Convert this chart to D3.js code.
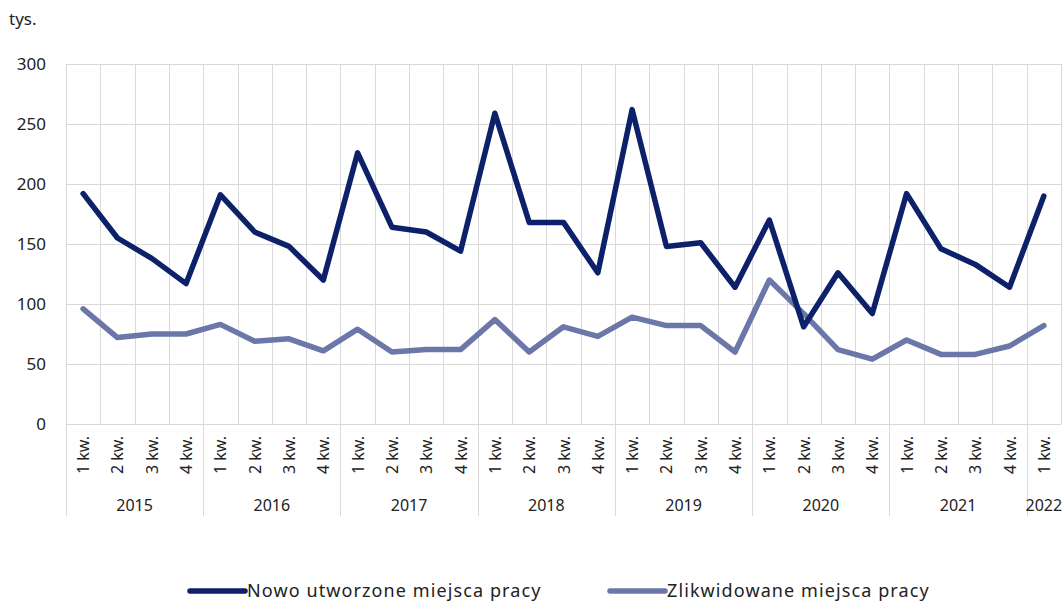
<!DOCTYPE html>
<html>
<head>
<meta charset="utf-8">
<script src="https://cdn.jsdelivr.net/npm/d3@7"></script>
<style>
  body { margin: 0; background: #fff; }
  text { font-family: "Noto Sans", "Open Sans", sans-serif; fill: #222; }
</style>
</head>
<body>
<div id="viz"></div>
<script>
// data (thousands)
let years = ["2015", "2016", "2017", "2018", "2019", "2020", "2021", "2022"];
let quarters = ["1 kw.", "2 kw.", "3 kw.", "4 kw."];
let created = [192, 155, 138, 117, 191, 160, 148, 120, 226, 164, 160, 144,
  259, 168, 168, 126, 262, 148, 151, 114, 170, 81, 126, 92, 192, 146, 133, 114, 190];
let liquidated = [96, 72, 75, 75, 83, 69, 71, 61, 79, 60, 62, 62,
  87, 60, 81, 73, 89, 82, 82, 60, 120, 92, 62, 54, 70, 58, 58, 65, 82];
let yTicks = [0, 50, 100, 150, 200, 250, 300];
let seriesNames = ["Nowo utworzone miejsca pracy", "Zlikwidowane miejsca pracy"];
let colours = ["#0c2169", "#6b77a8"];

// build category list: one entry per quarter
let cats = [];
years.forEach((yr) => {
  quarters.forEach((q) => {
    if (cats.length < created.length) cats.push({ year: yr, q: q, key: yr + " " + q });
  });
});

let width = 1064, height = 603;
let plotLeft = 66, plotRight = 1061, plotTop = 64, plotBottom = 424;

let svg = d3.select("#viz").append("svg")
  .attr("width", width)
  .attr("height", height);

let x = d3.scaleBand()
  .domain(cats.map((d) => d.key))
  .range([plotLeft, plotRight]);

let y = d3.scaleLinear()
  .domain([0, 300])
  .range([plotBottom, plotTop]);

// grid
let grid = svg.append("g").attr("stroke", "#d9d9d9").attr("stroke-width", 1);
grid.selectAll("line.h")
  .data(yTicks)
  .join("line")
  .attr("x1", plotLeft).attr("x2", plotRight)
  .attr("y1", (d) => y(d) + 0.5).attr("y2", (d) => y(d) + 0.5);
grid.selectAll("line.v")
  .data(cats.concat([null]))
  .join("line")
  .attr("x1", (d) => Math.round(d ? x(d.key) : plotRight) + 0.5)
  .attr("x2", (d) => Math.round(d ? x(d.key) : plotRight) + 0.5)
  .attr("y1", plotTop)
  .attr("y2", plotBottom);

// y tick labels
svg.append("g").selectAll("text")
  .data(yTicks)
  .join("text")
  .attr("x", 46)
  .attr("y", (d) => y(d))
  .attr("dy", "0.35em")
  .attr("text-anchor", "end")
  .style("font-size", "17px")
  .text((d) => d);

svg.append("text")
  .attr("x", 9).attr("y", 25)
  .style("font-size", "17px")
  .text("tys.");

// x axis: quarter labels, rotated
svg.append("g").selectAll("text")
  .data(cats)
  .join("text")
  .attr("transform", (d) => `translate(${x(d.key) + x.bandwidth() / 2 + 6},455) rotate(-90)`)
  .attr("text-anchor", "middle")
  .style("font-size", "16px")
  .text((d) => d.q);

// year separators and labels
let yearGroups = d3.groups(cats, (d) => d.year);
svg.append("g").selectAll("line")
  .data(yearGroups.map((g) => g[1][0]))
  .join("line")
  .attr("x1", (d) => Math.round(x(d.key)) + 0.5)
  .attr("x2", (d) => Math.round(x(d.key)) + 0.5)
  .attr("y1", plotBottom)
  .attr("y2", 516)
  .attr("stroke", "#d9d9d9");

svg.append("g").selectAll("text")
  .data(yearGroups)
  .join("text")
  .attr("x", (g) => {
    let first = x(g[1][0].key);
    let last = x(g[1][g[1].length - 1].key) + x.bandwidth();
    return (first + last) / 2;
  })
  .attr("y", 511)
  .attr("text-anchor", "middle")
  .style("font-size", "16px")
  .text((g) => g[0]);

// lines
let line = d3.line()
  .x((d, i) => x(cats[i].key) + x.bandwidth() / 2)
  .y((d) => y(d));

[liquidated, created].forEach((s, k) => {
  svg.append("path")
    .attr("d", line(s))
    .attr("fill", "none")
    .attr("stroke", colours[1 - k])
    .attr("stroke-width", 5.5)
    .attr("stroke-linejoin", "round")
    .attr("stroke-linecap", "round");
});

// legend
let legendX = [190, 610];
let legend = svg.append("g").selectAll("g")
  .data(seriesNames)
  .join("g")
  .attr("transform", (d, i) => `translate(${legendX[i]},591)`);
legend.append("line")
  .attr("x1", 0).attr("x2", 55)
  .attr("stroke", (d, i) => colours[i])
  .attr("stroke-width", 5.5)
  .attr("stroke-linecap", "round");
legend.append("text")
  .attr("x", 57)
  .attr("dy", "0.35em")
  .style("font-size", "18px")
  .style("letter-spacing", "1.1px")
  .text((d) => d);
</script>
</body>
</html>
